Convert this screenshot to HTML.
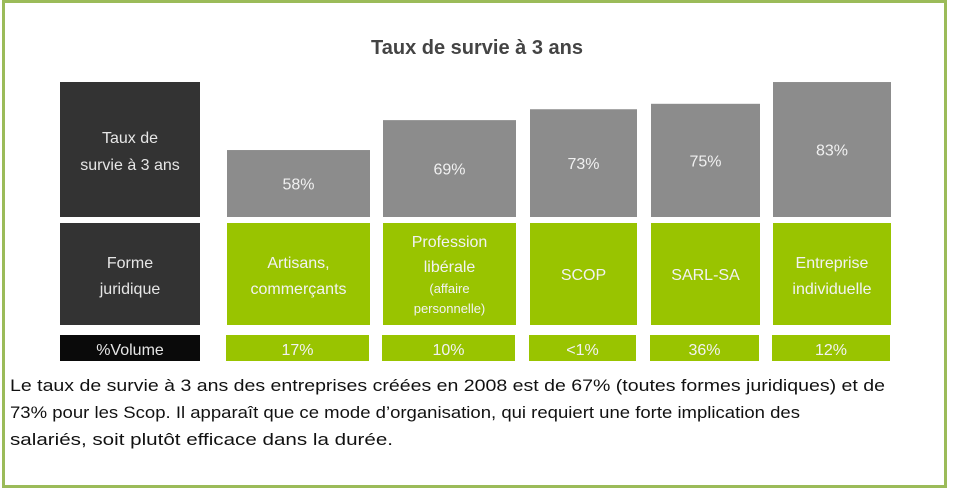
<!DOCTYPE html>
<html><head><meta charset="utf-8"><style>
html,body{margin:0;padding:0;background:#fff;}
svg{display:block;font-family:"Liberation Sans",sans-serif;}
</style></head><body>
<svg width="954" height="490" viewBox="0 0 954 490">
<rect x="3.5" y="1.5" width="942" height="485" fill="#fff" stroke="#9bbb59" stroke-width="3"/>
<text x="477" y="54" text-anchor="middle" font-size="20" font-weight="bold" fill="#444">Taux de survie à 3 ans</text>
<rect x="60" y="82" width="140" height="135" fill="#333"/>
<text x="130" y="143" text-anchor="middle" font-size="16" fill="#e6e6e6"><tspan x="130">Taux de</tspan><tspan x="130" dy="27">survie à 3 ans</tspan></text>
<rect x="60" y="223" width="140" height="102" fill="#333"/>
<text x="130" y="268" text-anchor="middle" font-size="16" fill="#e6e6e6"><tspan x="130">Forme</tspan><tspan x="130" dy="26">juridique</tspan></text>
<rect x="60" y="335" width="140" height="26" fill="#0a0a0a"/>
<text x="130" y="355" text-anchor="middle" font-size="16" fill="#e6e6e6">%Volume</text>
<g id="cols"></g>
<g font-size="17" fill="#111">
<text x="10" y="391" textLength="875" lengthAdjust="spacingAndGlyphs">Le taux de survie à 3 ans des entreprises créées en 2008 est de 67% (toutes formes juridiques) et de</text>
<text x="10" y="418" textLength="790" lengthAdjust="spacingAndGlyphs">73% pour les Scop. Il apparaît que ce mode d’organisation, qui requiert une forte implication des</text>
<text x="10" y="445" textLength="383" lengthAdjust="spacingAndGlyphs">salariés, soit plutôt efficace dans la durée.</text>
</g>
</svg>
<script>
const categories = [["Artisans,","commerçants"],["Profession","libérale","(affaire","personnelle)"],["SCOP"],["SARL-SA"],["Entreprise","individuelle"]];
const survival = [58, 69, 73, 75, 83];
const volumeLabels = ["17%","10%","<1%","36%","12%"];
const colX = [227,383,530,651,773];
const colW = [143,133,107,109,118];
const NS="http://www.w3.org/2000/svg";
const g=document.getElementById('cols');
const base=217;
function yScale(v){ return base - (2.72*v - 90.8); }
function mk(tag,attrs){const e=document.createElementNS(NS,tag);for(const k in attrs)e.setAttribute(k,attrs[k]);g.appendChild(e);return e;}
survival.forEach((v,i)=>{
  const x=colX[i], w=colW[i], top=yScale(v);
  const b=mk('rect',{x:x,y:top,width:w,height:base-top,fill:'#8c8c8c'});
  
  
  const t=mk('text',{x:x+w/2,y:(top+base)/2+6,'text-anchor':'middle','font-size':'16',fill:'#f0f0f0'});
  t.textContent=v+'%';
  
  
  const gb=mk('rect',{x:x,y:223,width:w,height:102,fill:'#99c400'});
  
  
  const lines=categories[i];
  const small=lines.length>2;
  const lh=small?[25,25,21,20]:[26,26];
  let total=0; for(let k=0;k<lines.length;k++) total+= (k? lh[k]:0);
  let y = small?247:274-total/2+ (lines.length===1?6:0);
  if(lines.length===2) y=268;
  lines.forEach((ln,k)=>{
    if(k>0) y+=lh[k];
    const tt=mk('text',{x:x+w/2,y:y,'text-anchor':'middle','font-size':(small&&k>=2)?'13':'16',fill:'#f2f2f2'});
    tt.textContent=ln;
    
    
  });
  const vb=mk('rect',{x:x-1,y:335,width:w,height:26,fill:'#99c400'});
  
  
  const vt=mk('text',{x:x+w/2-1,y:355,'text-anchor':'middle','font-size':'16',fill:'#f2f2f2'});
  vt.textContent=volumeLabels[i];
  
  
});
</script>
</body></html>
